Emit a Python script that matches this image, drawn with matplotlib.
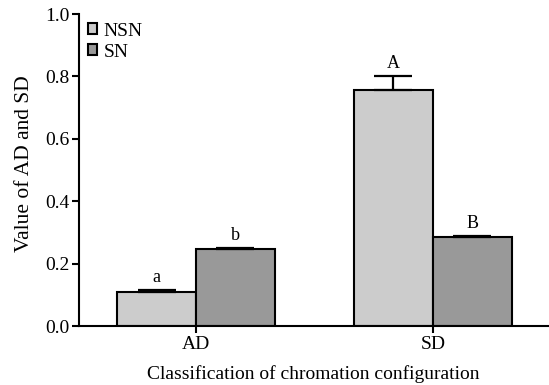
import matplotlib.pyplot as plt
import numpy as np

plt.rcParams['font.family'] = ['Liberation Serif', 'DejaVu Serif']

categories = ['AD', 'SD']
nsn = [0.109, 0.756]
nsn_err = [0.006, 0.045]
sn = [0.247, 0.285]
sn_err = [0.004, 0.005]
nsn_letters = ['a', 'A']
sn_letters = ['b', 'B']

x = np.arange(len(categories))
w = 0.333

fig = plt.figure(figsize=(5.49, 3.85), dpi=100)
ax = fig.add_axes([0.1439, 0.1532, 0.854, 0.8104])

err_kw = dict(ecolor='black', capsize=14, elinewidth=1.6, capthick=1.6)
ax.bar(x - w / 2, nsn, w, yerr=[[0, 0], nsn_err], color='#cccccc',
       edgecolor='black', linewidth=1.5, label='NSN', error_kw=err_kw)
ax.bar(x + w / 2, sn, w, yerr=[[0, 0], sn_err], color='#999999',
       edgecolor='black', linewidth=1.5, label='SN', error_kw=err_kw)

for i in range(len(categories)):
    ax.text(x[i] - w / 2, nsn[i] + nsn_err[i] + 0.012, nsn_letters[i],
            ha='center', va='bottom', fontsize=13)
    ax.text(x[i] + w / 2, sn[i] + sn_err[i] + 0.012, sn_letters[i],
            ha='center', va='bottom', fontsize=13)

ax.set_xlim(-0.494, 1.485)
ax.set_ylim(0, 1.0)
ax.set_xticks(x)
ax.set_xticklabels(categories)
ax.set_yticks([0.0, 0.2, 0.4, 0.6, 0.8, 1.0])
ax.set_yticklabels(['0.0', '0.2', '0.4', '0.6', '0.8', '1.0'])
ax.tick_params(labelsize=14, width=1.5, length=5, pad=2)
for s in ['top', 'right']:
    ax.spines[s].set_visible(False)
for s in ['left', 'bottom']:
    ax.spines[s].set_linewidth(1.5)

ax.set_ylabel('Value of AD and SD', fontsize=15.5)
ax.yaxis.set_label_coords(-0.096, 0.522)
ax.set_xlabel('Classification of chromation configuration', fontsize=14,
              labelpad=9)

ax.legend(loc='upper left', frameon=False, fontsize=14, handlelength=0.5,
          handleheight=0.5, handletextpad=0.3, borderaxespad=0.05,
          labelspacing=0.2)

fig.savefig('out.png', dpi=100)
